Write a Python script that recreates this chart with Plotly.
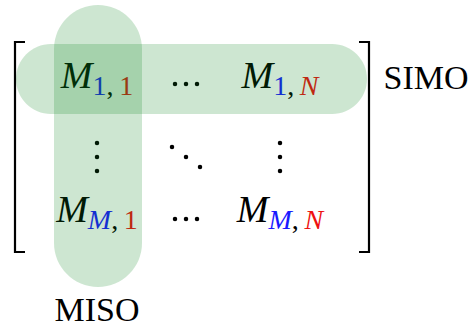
import plotly.graph_objects as go

# ---- content ----
row_index = ["1", "M"]          # first / last row index (blue)
col_index = ["1", "N"]          # first / last column index (red)
side_labels = ["SIMO", "MISO"]  # row highlight label, column highlight label

BLUE = "#1a1aff"
RED = "#ee1111"
FILL = "rgba(5,130,25,0.2)"
FONT = "Liberation Serif"

W, H = 476, 326
col_x = [97, 186, 280]
row_y = [78, 157, 212]


def idx(s, color):
    s_html = s if s.isdigit() else f"<i>{s}</i>"
    return f"<span style='color:{color};font-size:28px'>{s_html}</span>"


def entry(r, c):
    return (f"<i>M</i><sub>{idx(r, BLUE)}"
            f"<span style='font-size:28px'>,\u2009</span>{idx(c, RED)}</sub>")


def pill(x0, y0, x1, y1, horizontal):
    k = 0.5523
    if horizontal:
        r = (y1 - y0) / 2
        p = (f"M{x0+r},{y0} L{x1-r},{y0} "
             f"C{x1-r+k*r},{y0} {x1},{y0+r-k*r} {x1},{y0+r} "
             f"C{x1},{y0+r+k*r} {x1-r+k*r},{y1} {x1-r},{y1} "
             f"L{x0+r},{y1} "
             f"C{x0+r-k*r},{y1} {x0},{y1-r+k*r} {x0},{y1-r} "
             f"C{x0},{y0+r-k*r} {x0+r-k*r},{y0} {x0+r},{y0} Z")
    else:
        r = (x1 - x0) / 2
        p = (f"M{x0},{y0+r} "
             f"C{x0},{y0+r-k*r} {x0+r-k*r},{y0} {x0+r},{y0} "
             f"C{x0+r+k*r},{y0} {x1},{y0+r-k*r} {x1},{y0+r} "
             f"L{x1},{y1-r} "
             f"C{x1},{y1-r+k*r} {x0+r+k*r},{y1} {x0+r},{y1} "
             f"C{x0+r-k*r},{y1} {x0},{y1-r+k*r} {x0},{y1-r} Z")
    return dict(type="path", path=p, xref="x", yref="y", fillcolor=FILL,
                line=dict(width=0), layer="above")


fig = go.Figure()

# matrix entries
ent_x, ent_y, ent_t = [], [], []
for i, r in enumerate(row_index):
    for j, c in enumerate(col_index):
        ent_x.append(col_x[0] if j == 0 else col_x[2])
        ent_y.append(row_y[0] if i == 0 else row_y[2])
        ent_t.append(entry(r, c))
fig.add_trace(go.Scatter(x=ent_x, y=ent_y, text=ent_t, mode="text",
                         textfont=dict(family=FONT, size=38, color="black"),
                         textposition="middle center", hoverinfo="skip"))

# dots: horizontal, vertical, diagonal ellipses
dx, dy = [], []
for yy in (84, 219):
    for xx in (175, 186, 197):
        dx.append(xx); dy.append(yy)
for xx in (col_x[0], col_x[2]):
    for yy in (143, 157, 171):
        dx.append(xx); dy.append(yy)
for xx, yy in ((172, 147), (186, 157), (200, 167)):
    dx.append(xx); dy.append(yy)
fig.add_trace(go.Scatter(x=dx, y=dy, mode="markers",
                         marker=dict(size=4.5, color="black"), hoverinfo="skip"))

# brackets
for xs in ([25, 15, 15, 25], [359, 369, 369, 359]):
    fig.add_trace(go.Scatter(x=xs, y=[42, 42, 252, 252], mode="lines",
                             line=dict(color="black", width=2.2), hoverinfo="skip"))

# side labels
fig.add_trace(go.Scatter(x=[426, 97], y=[80, 312], text=side_labels, mode="text",
                         textfont=dict(family=FONT, size=34, color="black"),
                         textposition="middle center", hoverinfo="skip"))

fig.update_layout(
    width=W, height=H, margin=dict(l=0, r=0, t=0, b=0),
    paper_bgcolor="white", plot_bgcolor="white", showlegend=False,
    xaxis=dict(range=[0, W], visible=False, fixedrange=True),
    yaxis=dict(range=[H, 0], visible=False, fixedrange=True),
    shapes=[pill(16, 44, 367, 114, True), pill(54, 5, 142, 287, False)],
)

fig.write_html("out.html", config={"displayModeBar": False},
               post_script="document.body.style.margin='0';document.body.style.overflow='hidden';")
